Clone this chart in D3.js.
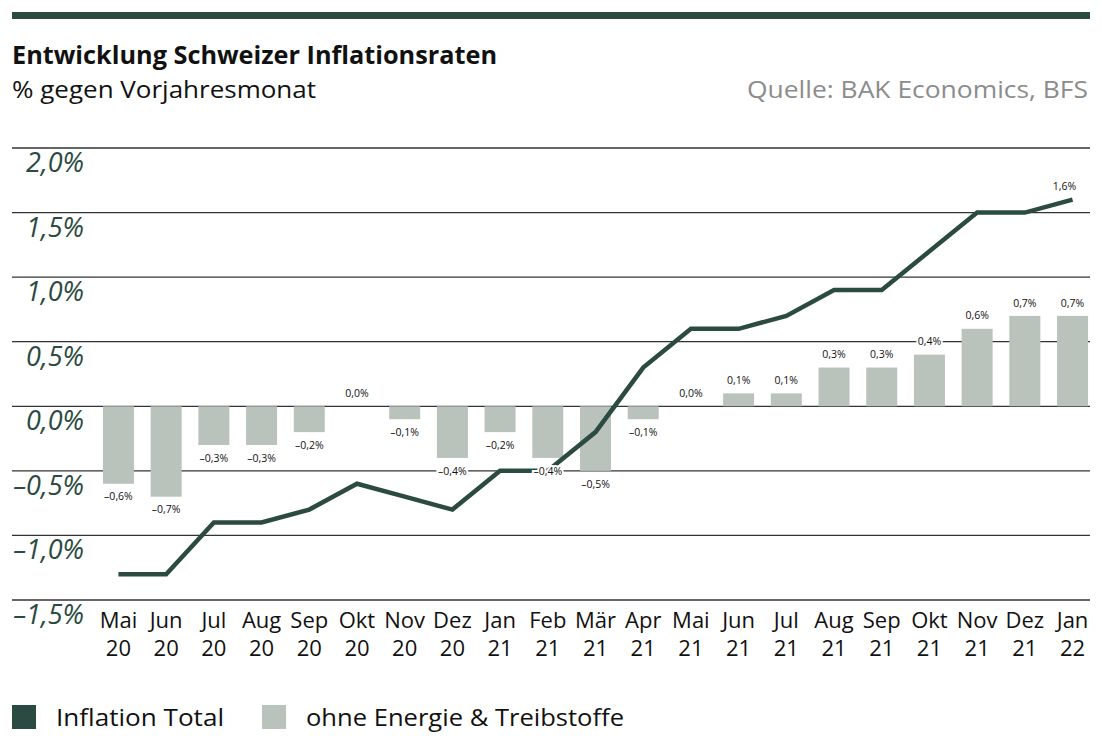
<!DOCTYPE html>
<html>
<head>
<meta charset="utf-8">
<script src="https://cdn.jsdelivr.net/npm/d3@7"></script>
<style>
  body { margin: 0; background: #fff; }
  text { font-family: "Open Sans", sans-serif; }
</style>
</head>
<body>
<div id="chart"></div>
<script>
// data
var months = ["Mai","Jun","Jul","Aug","Sep","Okt","Nov","Dez","Jan","Feb","Mär","Apr",
              "Mai","Jun","Jul","Aug","Sep","Okt","Nov","Dez","Jan"];
var years = ["20","20","20","20","20","20","20","20","21","21","21","21",
             "21","21","21","21","21","21","21","21","22"];
var inflationTotal = [-1.3,-1.3,-0.9,-0.9,-0.8,-0.6,-0.7,-0.8,-0.5,-0.5,-0.2,0.3,
                      0.6,0.6,0.7,0.9,0.9,1.2,1.5,1.5,1.6];
var ohneEnergie = [-0.6,-0.7,-0.3,-0.3,-0.2,0.0,-0.1,-0.4,-0.2,-0.4,-0.5,-0.1,
                   0.0,0.1,0.1,0.3,0.3,0.4,0.6,0.7,0.7];
var yTicks = [2.0,1.5,1.0,0.5,0.0,-0.5,-1.0,-1.5];

var W = 1102, H = 756;
var dark = "#2b4a42", grey = "#b9c3bb";

var svg = d3.select("#chart").append("svg")
  .attr("width", W).attr("height", H);

var keys = months.map(function(m, i){ return i; });

var x = d3.scaleBand()
  .domain(keys)
  .range([94.6, 1096.4])
  .paddingInner(0.35)
  .paddingOuter(0.175);

var y = d3.scaleLinear()
  .domain([-1.5, 2.0])
  .range([600, 148]);

function fmt(v) {
  var s = Math.abs(v).toFixed(1).replace(".", ",") + "%";
  return (v < 0 ? "\u2013" : "") + s;
}

// top rule
svg.append("rect").attr("x", 12).attr("y", 12).attr("width", 1078).attr("height", 7)
  .attr("fill", dark);

// titles
svg.append("text").attr("x", 12).attr("y", 64)
  .attr("font-size", 24.5).attr("font-weight", "bold").attr("fill", "#111")
  .attr("textLength", 485).attr("lengthAdjust", "spacingAndGlyphs")
  .text("Entwicklung Schweizer Inflationsraten");
svg.append("text").attr("x", 12).attr("y", 98)
  .attr("font-size", 24).attr("fill", "#111")
  .attr("textLength", 304).attr("lengthAdjust", "spacingAndGlyphs")
  .text("% gegen Vorjahresmonat");
svg.append("text").attr("x", 1088).attr("y", 98)
  .attr("font-size", 24).attr("fill", "#8c8c8c").attr("text-anchor", "end")
  .attr("textLength", 341).attr("lengthAdjust", "spacingAndGlyphs")
  .text("Quelle: BAK Economics, BFS");

// grid + y labels
var grid = svg.append("g");
grid.selectAll("line").data(yTicks).enter().append("line")
  .attr("x1", 12).attr("x2", 1090)
  .attr("y1", function(d){ return y(d); })
  .attr("y2", function(d){ return y(d); })
  .attr("stroke", "#333").attr("stroke-width", 1.3);
grid.selectAll("text").data(yTicks).enter().append("text")
  .attr("x", 84).attr("y", function(d){ return y(d) + 24; })
  .attr("text-anchor", "end")
  .attr("font-size", 27).attr("font-style", "italic").attr("fill", dark)
  .text(fmt);

// bars
svg.append("g").selectAll("rect").data(ohneEnergie).enter().append("rect")
  .attr("x", function(d, i){ return x(i); })
  .attr("width", x.bandwidth())
  .attr("y", function(d){ return y(Math.max(0, d)); })
  .attr("height", function(d){ return Math.abs(y(d) - y(0)); })
  .attr("fill", grey);

// line
var line = d3.line()
  .x(function(d, i){ return x(i) + x.bandwidth() / 2; })
  .y(function(d){ return y(d); });
svg.append("path").datum(inflationTotal)
  .attr("d", line)
  .attr("fill", "none").attr("stroke", dark).attr("stroke-width", 4.5)
  .attr("stroke-linejoin", "miter");

// bar value labels
var lbl = svg.append("g").selectAll("g").data(ohneEnergie).enter().append("g")
  .attr("transform", function(d, i){
    var cy = d < 0 ? y(d) + 13 : y(d) - 13;
    return "translate(" + (x(i) + x.bandwidth() / 2) + "," + cy + ")";
  });
lbl.append("text")
  .attr("text-anchor", "middle").attr("dy", "0.35em")
  .attr("font-size", 10.5).attr("fill", "#111")
  .attr("stroke", "#fff").attr("stroke-width", 4).attr("paint-order", "stroke")
  .text(fmt);

// total last value label
var last = inflationTotal.length - 1;
svg.append("text")
  .attr("x", x(last) + x.bandwidth() / 2 - 8).attr("y", y(inflationTotal[last]) - 13)
  .attr("text-anchor", "middle").attr("dy", "0.35em")
  .attr("font-size", 10.5).attr("fill", "#111")
  .text(fmt(inflationTotal[last]));

// x labels
var xl = svg.append("g").selectAll("text").data(keys).enter().append("text")
  .attr("text-anchor", "middle")
  .attr("font-size", 22).attr("fill", "#111")
  .attr("x", function(i){ return x(i) + x.bandwidth() / 2; });
xl.append("tspan").attr("x", function(i){ return x(i) + x.bandwidth() / 2; })
  .attr("y", 628).text(function(i){ return months[i]; });
xl.append("tspan").attr("x", function(i){ return x(i) + x.bandwidth() / 2; })
  .attr("y", 656).text(function(i){ return years[i]; });

// legend
var legend = [
  {label: "Inflation Total", color: dark, x: 12, w: 168},
  {label: "ohne Energie & Treibstoffe", color: grey, x: 262, w: 318}
];
var lg = svg.append("g").selectAll("g").data(legend).enter().append("g")
  .attr("transform", function(d){ return "translate(" + d.x + ",705)"; });
lg.append("rect").attr("width", 24).attr("height", 24)
  .attr("fill", function(d){ return d.color; });
lg.append("text").attr("x", 44).attr("y", 21)
  .attr("font-size", 24).attr("fill", "#111")
  .attr("textLength", function(d){ return d.w; }).attr("lengthAdjust", "spacingAndGlyphs")
  .text(function(d){ return d.label; });
</script>
</body>
</html>
